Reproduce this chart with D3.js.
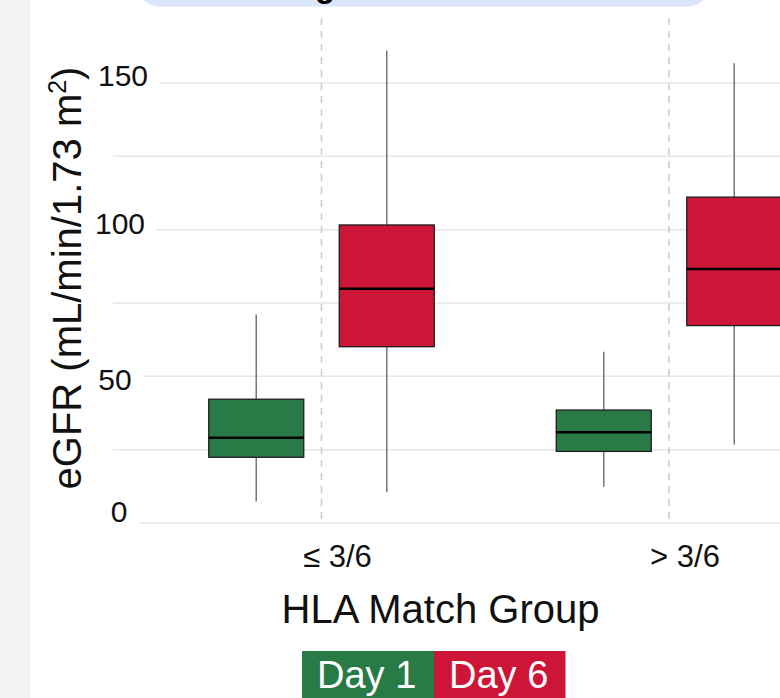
<!DOCTYPE html>
<html>
<head>
<meta charset="utf-8">
<script src="https://cdn.jsdelivr.net/npm/d3@7/dist/d3.min.js"></script>
<style>
  html, body { margin: 0; padding: 0; background: #fff; }
  svg { display: block; font-family: "Liberation Sans", Arial, sans-serif; }
</style>
</head>
<body>
<svg id="chart" width="780" height="698"></svg>
<script>
// ---- data ----
const categories = ["≤ 3/6", "> 3/6"];
const series = ["Day 1", "Day 6"];
const day1Min = [7.3, 12.4];
const day1Q1  = [22.4, 24.4];
const day1Med = [29.1, 30.9];
const day1Q3  = [42.2, 38.5];
const day1Max = [71.1, 58.4];
const day6Min = [10.5, 26.8];
const day6Q1  = [60.1, 67.3];
const day6Med = [79.9, 86.6];
const day6Q3  = [101.6, 111.1];
const day6Max = [161.1, 156.7];
const yTickLabels = [0, 50, 100, 150];
const yGridValues = [0, 25, 50, 75, 100, 125, 150];
const titleText = "Changes in eGFR Over Time";
const xTitle = "HLA Match Group";

const seriesColors = {"Day 1": "#287a46", "Day 6": "#cd1637"};
const stats = {
  "Day 1": {min: day1Min, q1: day1Q1, med: day1Med, q3: day1Q3, max: day1Max},
  "Day 6": {min: day6Min, q1: day6Q1, med: day6Med, q3: day6Q3, max: day6Max}
};

const svg = d3.select("#chart");

// background strip
svg.append("rect").attr("x", 0).attr("y", 0).attr("width", 30).attr("height", 698).attr("fill", "#f2f2f2");
svg.append("rect").attr("x", 30).attr("y", 0).attr("width", 750).attr("height", 698).attr("fill", "#ffffff");

// title box (mostly cut off, as in the reference)
svg.append("rect").attr("x", 137).attr("y", -80).attr("width", 573).attr("height", 86.5)
  .attr("rx", 22).attr("fill", "#dbe6fc");
svg.append("text").attr("x", 455).attr("y", -3).attr("text-anchor", "middle")
  .attr("font-size", 33).attr("font-weight", "bold").attr("fill", "#000").text(titleText);

// scales
const x = d3.scalePoint().domain(categories).range([321.5, 669]);
const xs = d3.scalePoint().domain(series).range([-65.25, 65.25]);
const y = d3.scaleLinear().domain([0, 150]).range([523, 83]);
const boxW = 95;
const plotLeft = 113;

// gridlines
const gridG = svg.append("g");
const labelG = svg.append("g");
const labelOffsets = {0: {dx: -1, dy: -12}, 50: {dx: -5, dy: 3}, 100: {dx: 0, dy: -6}, 150: {dx: 3, dy: -8}};

yGridValues.forEach(v => {
  let x0 = plotLeft;
  if (yTickLabels.includes(v)) {
    const o = labelOffsets[v];
    const t = labelG.append("text")
      .attr("x", 120 + o.dx).attr("y", y(v) + o.dy)
      .attr("text-anchor", "middle").attr("dominant-baseline", "central")
      .attr("font-size", 30).attr("fill", "#111").text(d3.format("d")(v));
    const bb = t.node().getBBox();
    x0 = bb.x + bb.width + 12;
  }
  gridG.append("line").attr("x1", x0).attr("x2", 790)
    .attr("y1", y(v)).attr("y2", y(v))
    .attr("stroke", "#e6e6e6").attr("stroke-width", 1.5);
});

// vertical dashed category lines
svg.append("g").selectAll("line").data(categories).join("line")
  .attr("x1", d => x(d)).attr("x2", d => x(d))
  .attr("y1", 18).attr("y2", y(0))
  .attr("stroke", "#cccccc").attr("stroke-width", 1.5).attr("stroke-dasharray", "7,6");

// boxes
const boxData = [];
series.forEach(s => categories.forEach((c, i) => {
  const st = stats[s];
  boxData.push({s, c, min: st.min[i], q1: st.q1[i], med: st.med[i], q3: st.q3[i], max: st.max[i]});
}));

const bg = svg.append("g").selectAll("g").data(boxData).join("g")
  .attr("transform", d => `translate(${x(d.c) + xs(d.s)},0)`);

bg.append("line").attr("x1", 0).attr("x2", 0)
  .attr("y1", d => y(d.max)).attr("y2", d => y(d.q3))
  .attr("stroke", "#777").attr("stroke-width", 1.5);
bg.append("line").attr("x1", 0).attr("x2", 0)
  .attr("y1", d => y(d.q1)).attr("y2", d => y(d.min))
  .attr("stroke", "#777").attr("stroke-width", 1.5);
bg.append("rect").attr("x", -boxW / 2).attr("width", boxW)
  .attr("y", d => y(d.q3)).attr("height", d => y(d.q1) - y(d.q3))
  .attr("fill", d => seriesColors[d.s]).attr("stroke", "#1e1e1e").attr("stroke-width", 1.3);
bg.append("line").attr("x1", -boxW / 2).attr("x2", boxW / 2)
  .attr("y1", d => y(d.med)).attr("y2", d => y(d.med))
  .attr("stroke", "#000").attr("stroke-width", 2.5);

// x tick labels
svg.append("g").selectAll("text").data(categories).join("text")
  .attr("x", d => x(d) + 16).attr("y", 567)
  .attr("text-anchor", "middle").attr("font-size", 31).attr("fill", "#111")
  .text(d => d);

// x axis title
svg.append("text").attr("x", 440.5).attr("y", 623).attr("text-anchor", "middle")
  .attr("font-size", 40).attr("fill", "#111").text(xTitle);

// y axis title
const yt = svg.append("text").attr("transform", "translate(81,278) rotate(-90)")
  .attr("text-anchor", "middle").attr("font-size", 40).attr("fill", "#111");
yt.append("tspan").text("eGFR (mL/min/1.73 m");
yt.append("tspan").attr("font-size", 25).attr("dy", -15).text("2");
yt.append("tspan").attr("dy", 15).text(")");

// legend
const legX = d3.scalePoint().domain(series).range([302, 434]);
const lg = svg.append("g").selectAll("g").data(series).join("g")
  .attr("transform", d => `translate(${legX(d)},651)`);
lg.append("rect").attr("width", (d, i) => i === 0 ? 132 : 131.5).attr("height", 55)
  .attr("fill", d => seriesColors[d]);
lg.append("text").attr("x", 15).attr("y", 37).attr("font-size", 38).attr("fill", "#fff").text(d => d);
</script>
</body>
</html>
